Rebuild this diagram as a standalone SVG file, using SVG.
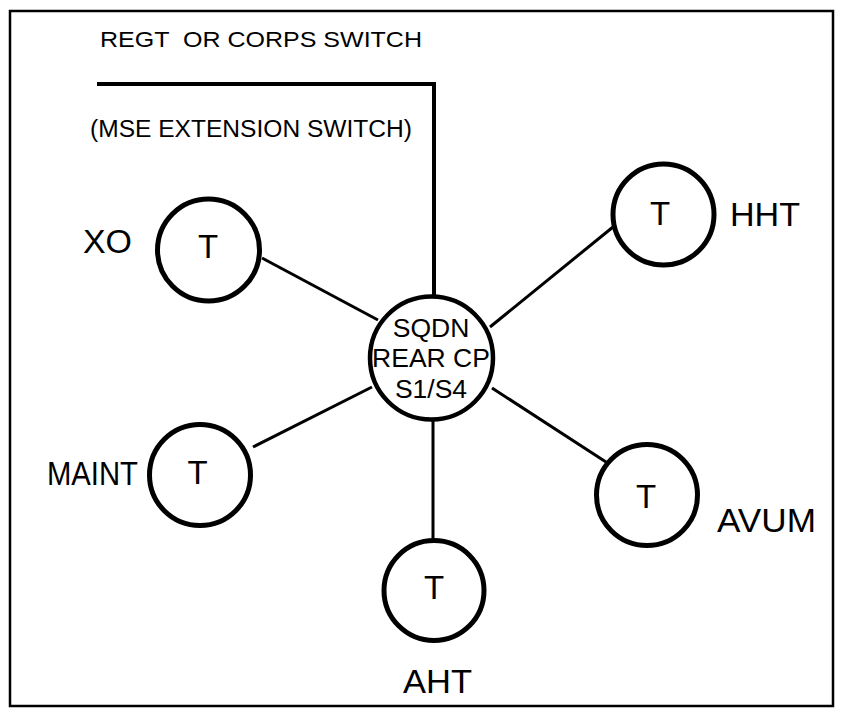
<svg xmlns="http://www.w3.org/2000/svg" width="843" height="717" viewBox="0 0 843 717">
  <style>
    text { font-family: "Liberation Sans", Arial, sans-serif; fill: #000; }
    .node circle { fill: #fff; stroke: #000; stroke-width: 5; }
    .hub circle { stroke-width: 4.5; }
    .links line, .links polyline { stroke: #000; stroke-width: 3; fill: none; }
    .links .trunk { stroke-width: 4; }
    .t { font-size: 33px; text-anchor: middle; }
    .lbl { font-size: 34px; }
    .hubtxt { font-size: 26.5px; text-anchor: middle; }
  </style>
  <rect x="0" y="0" width="843" height="717" fill="#fff"/>
  <!-- frame -->
  <rect x="10" y="11" width="823" height="695" fill="none" stroke="#000" stroke-width="2.5"/>

  <!-- switch labels -->
  <text x="100" y="47" font-size="22" textLength="322" lengthAdjust="spacingAndGlyphs" xml:space="preserve">REGT  OR CORPS SWITCH</text>
  <text x="90" y="137" font-size="23" textLength="322" lengthAdjust="spacingAndGlyphs">(MSE EXTENSION SWITCH)</text>

  <!-- connectors -->
  <g class="links">
    <polyline class="trunk" points="97,84 434,84 434,296"/>
    <line x1="262" y1="258" x2="378" y2="320"/>
    <line x1="253" y1="447" x2="372" y2="387"/>
    <line x1="490" y1="327" x2="613" y2="227"/>
    <line x1="492" y1="388" x2="606" y2="462"/>
    <line x1="433" y1="420" x2="433" y2="540"/>
  </g>

  <!-- hub -->
  <g id="hub" class="node hub">
    <circle cx="431.5" cy="358" r="61.5"/>
    <text class="hubtxt" x="431" y="337">SQDN</text>
    <text class="hubtxt" x="431" y="367">REAR CP</text>
    <text class="hubtxt" x="431" y="398">S1/S4</text>
  </g>

  <g id="xo" class="node">
    <circle cx="208.5" cy="250" r="51"/>
    <text class="t" x="208" y="258">T</text>
    <text class="lbl" x="83" y="253" textLength="49" lengthAdjust="spacingAndGlyphs">XO</text>
  </g>

  <g id="hht" class="node">
    <circle cx="663.5" cy="214.5" r="50.5"/>
    <text class="t" x="660" y="225">T</text>
    <text class="lbl" x="730" y="226" textLength="70" lengthAdjust="spacingAndGlyphs">HHT</text>
  </g>

  <g id="maint" class="node">
    <circle cx="200" cy="475" r="50.5"/>
    <text class="t" x="197.5" y="484">T</text>
    <text class="lbl" x="47" y="485" font-size="30" textLength="91" lengthAdjust="spacingAndGlyphs">MAINT</text>
  </g>

  <g id="avum" class="node">
    <circle cx="647" cy="495" r="50.5"/>
    <text class="t" x="646" y="508">T</text>
    <text class="lbl" x="717" y="532" textLength="99" lengthAdjust="spacingAndGlyphs">AVUM</text>
  </g>

  <g id="aht" class="node">
    <circle cx="434" cy="590.5" r="50"/>
    <text class="t" x="434" y="599">T</text>
    <text class="lbl" x="403" y="693" textLength="69" lengthAdjust="spacingAndGlyphs">AHT</text>
  </g>
</svg>
